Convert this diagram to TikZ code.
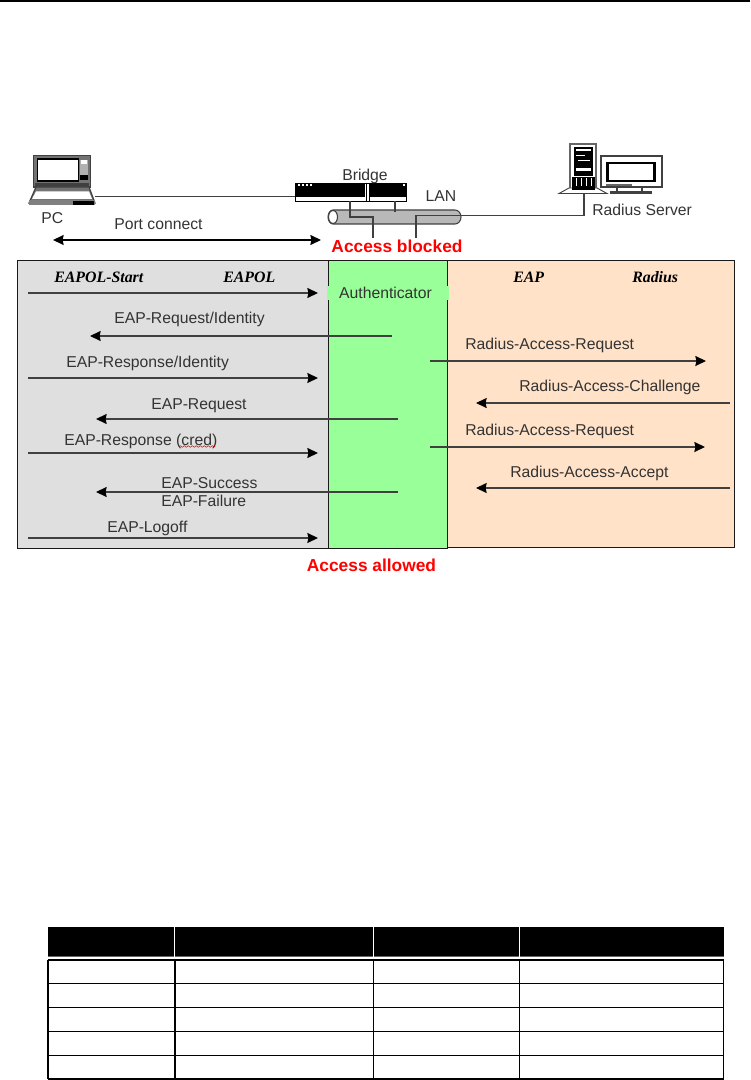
\documentclass[tikz,border=0pt]{standalone}
\usepackage{fontspec}
\setmainfont{Liberation Sans}
\newfontfamily\headfont{Liberation Serif}
\usepackage{xcolor}
\usepackage{tikz}
\usetikzlibrary{arrows.meta,decorations.pathmorphing}
\definecolor{eapolgray}{HTML}{DFDFDF}
\definecolor{authgreen}{HTML}{99FF99}
\definecolor{radpeach}{HTML}{FFE2C8}
\definecolor{wire}{HTML}{404040}
\tikzset{
  panel/.style={draw=black!90, line width=.75pt},
  msg/.style={-{Stealth[length=8pt,width=7.5pt,inset=.8pt,color=black]}, draw=wire, line width=.85pt},
  lab/.style={inner sep=0pt, anchor=west, text height=8.5pt, text depth=0pt, text=black!80, font=\fontsize{11.8}{14}\selectfont},
  proto/.style={inner sep=0pt, anchor=west, font=\headfont\bfseries\itshape\fontsize{11.9}{14}\selectfont},
  warn/.style={inner sep=0pt, text=red, font=\bfseries\fontsize{13}{15}\selectfont},
  grid/.style={draw=black, line width=.8pt}
}

\begin{document}
\begin{tikzpicture}[>=Stealth, line join=miter, x=.75pt, y=-.75pt]
\useasboundingbox (0,0) rectangle (750,1080);

% Page rule
\fill[black] (0,0) rectangle (750,1.6);

% Panels
\draw[panel, fill=eapolgray] (17,261) rectangle (328,548);
\draw[panel, fill=radpeach] (447,261) rectangle (734,547);
\draw[panel, fill=authgreen] (328,261) rectangle (447,548);
\node[inner sep=0pt, fill=authgreen, minimum width=91.5pt, minimum height=10.5pt, text height=8.5pt, text depth=0pt, text=black!80, font=\fontsize{11.8}{14}\selectfont] (auth) at (387.5,293.3) {\hspace{-3pt}Authenticator};

% Laptop
\fill[black!55] (33,155) rectangle (91,187);
\draw[wire, line width=.8pt] (33.5,155.5) rectangle (90.5,187);
\draw[black, line width=1pt] (37.5,159) rectangle (78.5,181);
\fill[white] (38,160) rectangle (78,180);
\fill[black!30] (79.5,160) rectangle (87.5,180);
\fill[white] (81,160.5) rectangle (86.5,164);
\fill[black] (80,175.5) rectangle (87.5,180);
\fill[wire] (35,183) rectangle (89,187);
\draw[wire, fill=black!55, line width=.9pt] (36,187) -- (89,187) -- (95,203) -- (29,203) -- cycle;
\fill[white] (36,191.5) -- (89,191.5) -- (92,199) -- (32,199) -- cycle;
\fill[black!50] (29,200) rectangle (95,205);
\fill[black] (73,201) rectangle (94,205);
\coordinate (pcjack) at (95,196.5);
\node[lab] (pc) at (41,218.3) {PC};

% Bridge
\coordinate (brin) at (295,196.5);
\coordinate (brup) at (350,201);
\coordinate (brtee) at (395,201);
\draw[black, fill=white, line width=.7pt] (295,183) rectangle (406,201);
\fill[black] (295.5,184) rectangle (365,197.5);
\fill[black] (369,184) rectangle (405.5,197.5);
\foreach \xd in {298,302,306,310}
  \fill[white] (\xd,184) rectangle (\xd+2,186);
\fill[white] (403,184) rectangle (405,186);
\draw[black, line width=.5pt] (366,183) -- (366,201) (369,183) -- (369,201);
\node[lab, anchor=center] (bridge) at (365,174.5) {Bridge};
\node[lab, anchor=center] (lan) at (441,196) {LAN};

% Cable segment
\draw[wire, fill=black!28, line width=.8pt] (333,210) -- (455,210) arc[start angle=-90, end angle=90, x radius=6, y radius=7] -- (333,224) arc[start angle=90, end angle=270, x radius=5, y radius=7];
\draw[wire, fill=white, line width=.8pt] (333,217) ellipse[x radius=4.5, y radius=6.5];

% Server
\fill[black!60] (569,143) rectangle (597,190);
\fill[white] (571,145) rectangle (595,190);
\fill[black] (574,147) rectangle (593,176);
\fill[white] (576,149) rectangle (591,151.5);
\fill[white] (576,155) rectangle (585,156.5);
\fill[white] (578,160) rectangle (590,161.5);
\fill[white] (576,168) rectangle (591,171);
\fill[black] (572,177) rectangle (595,191);
\foreach \xb in {576,581,586,591}
  \draw[white, line width=.6pt] (\xb,178) -- (\xb,190);
\draw[wire, fill=white, line width=.7pt] (559,193.5) -- (569,188) -- (597,188) -- (607,193.5) -- cycle;
\fill[black] (572,186) rectangle (595,190);
\coordinate (srvfoot) at (584,194);
\draw[wire, fill=white, line width=.9pt] (601,156) rectangle (662,187);
\draw[black, line width=2.2pt] (607.5,163) rectangle (654.5,181);
\fill[black!60] (606,184) rectangle (632,186);
\draw[wire, line width=.8pt] (617,187) -- (617,192) (642,187) -- (642,192);
\fill[wire] (610,191.5) rectangle (652,194.5);
\node[lab] (srv) at (592,210) {Radius Server};

% Links
\coordinate (lanin) at (350,217);
\coordinate (lanup) at (395,212);
\coordinate (blka) at (373,217);
\coordinate (blkb) at (373,238);
\coordinate (lanr) at (416,215.5);
\coordinate (lanb) at (416,238);
\coordinate (srvc) at (584,215.5);
\draw[wire, line width=.8pt] (pcjack) -- (brin);
\draw[wire, line width=.8pt] (brup) -- (lanin) -- (blka) -- (blkb);
\draw[wire, line width=.8pt] (brtee) -- (lanup);
\draw[wire, line width=.8pt] (lanb) -- (lanr) -- (srvc) -- (srvfoot);

% Port connect
\coordinate (porta) at (53,240);
\coordinate (portb) at (321,240);
\draw[{Stealth[length=8pt,width=7.5pt,inset=.8pt]}-{Stealth[length=8pt,width=7.5pt,inset=.8pt]}, draw=black, line width=.85pt] (porta) -- (portb);
\node[lab] (port) at (114,223.5) {Port connect};

% Access states
\node[warn] (blocked) at (397,246) {Access blocked};
\node[warn] (allowed) at (371.5,565) {Access allowed};

% Protocol names
\node[proto] (start) at (54,277) {EAPOL-Start};
\node[proto] (eapol) at (223,277) {EAPOL};
\node[proto] (eap) at (513,277) {EAP};
\node[proto] (radius) at (632,277) {Radius};

% Supplicant side messages
\coordinate (ma1) at (28,293);    \coordinate (ma2) at (318,293);
\coordinate (mb1) at (392,336);   \coordinate (mb2) at (90,336);
\coordinate (mc1) at (28,378);    \coordinate (mc2) at (318,378);
\coordinate (md1) at (398,419);   \coordinate (md2) at (96,419);
\coordinate (me1) at (28,453);    \coordinate (me2) at (318,453);
\coordinate (mf1) at (398,492);   \coordinate (mf2) at (96,492);
\coordinate (mg1) at (28,538);    \coordinate (mg2) at (318,538);
\draw[msg] (ma1) -- (ma2);
\draw[msg] (mb1) -- (mb2);
\draw[msg] (mc1) -- (mc2);
\draw[msg] (md1) -- (md2);
\draw[msg] (me1) -- (me2);
\draw[msg] (mf1) -- (mf2);
\draw[msg] (mg1) -- (mg2);
\node[lab] (reqid) at (114,318.3) {EAP-Request/Identity};
\node[lab] (respid) at (66,362) {EAP-Response/Identity};
\node[lab] (req) at (151,404.3) {EAP-Request};
\node[lab] (resp) at (64,439.5) {EAP-Response (cred)};
\node[lab] (succ) at (161,483) {EAP-Success};
\node[lab] (fail) at (161,501) {EAP-Failure};
\node[lab] (logoff) at (107,527) {EAP-Logoff};

% Spelling mark
\coordinate (wava) at (179,446.5);
\coordinate (wavb) at (215,446.5);
\draw[red!80!black, line width=.4pt, decorate, decoration={snake, amplitude=.6pt, segment length=3pt}] (wava) -- (wavb);

% Server side messages
\coordinate (ra1) at (430,361);   \coordinate (ra2) at (706,361);
\coordinate (rb1) at (730,403);   \coordinate (rb2) at (476,403);
\coordinate (rc1) at (430,447);   \coordinate (rc2) at (705,447);
\coordinate (rd1) at (730,488);   \coordinate (rd2) at (476,488);
\draw[msg] (ra1) -- (ra2);
\draw[msg] (rb1) -- (rb2);
\draw[msg] (rc1) -- (rc2);
\draw[msg] (rd1) -- (rd2);
\node[lab] (radreqa) at (465,343.7) {Radius-Access-Request};
\node[lab] (radchal) at (519,386) {Radius-Access-Challenge};
\node[lab] (radreqb) at (465,430) {Radius-Access-Request};
\node[lab] (radacc) at (510,472.3) {Radius-Access-Accept};

% Table
\fill[black] (48,927) rectangle (723.5,956.5);
\draw[black!60, line width=.6pt] (48,956.5) -- (723.5,956.5);
\foreach \xc in {174.5,373,519}
  \draw[white, line width=.6pt] (\xc,927) -- (\xc,957);
\foreach \yr in {960,983.5,1007.5,1031.5,1055.5,1079}
  \draw[grid] (48,\yr) -- (723.5,\yr);
\foreach \xc in {48,175,373.5,519.5,723.5}
  \draw[grid] (\xc,960) -- (\xc,1079);

\end{tikzpicture}
\end{document}
